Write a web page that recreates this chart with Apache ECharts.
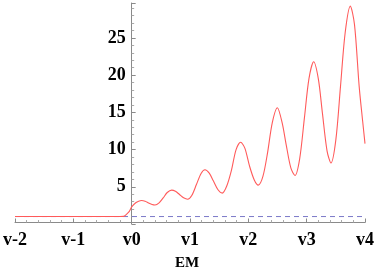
<!DOCTYPE html>
<html>
<head>
<meta charset="utf-8">
<script src="https://cdn.jsdelivr.net/npm/echarts@6/dist/echarts.min.js"></script>
<style>html,body{margin:0;padding:0;background:#fff}#c{width:374px;height:270px}</style>
</head>
<body>
<div id="c"></div>
<script>
// Data
var xValues = [-2, -1, -0.5, -0.2, -0.14, -0.09, -0.04, 0, 0.07, 0.12, 0.17, 0.23, 0.29, 0.35, 0.4, 0.47, 0.54, 0.61, 0.686, 0.75, 0.82, 0.89, 0.96, 1.03, 1.11, 1.19, 1.257, 1.33, 1.40, 1.48, 1.553, 1.63, 1.71, 1.79, 1.868, 1.94, 2.02, 2.10, 2.17, 2.25, 2.33, 2.41, 2.497, 2.58, 2.65, 2.73, 2.80, 2.88, 2.96, 3.04, 3.12, 3.20, 3.27, 3.35, 3.417, 3.50, 3.58, 3.66, 3.748, 3.82, 3.90, 3.96, 4.0];
var yValues = [1, 1, 1, 1, 1.02, 1.3, 1.7, 2.3, 2.85, 3.07, 3.15, 3.06, 2.83, 2.63, 2.56, 2.84, 3.5, 4.23, 4.55, 4.39, 3.96, 3.52, 3.33, 3.83, 5.3, 6.8, 7.3, 6.84, 5.8, 4.6, 4.15, 5.1, 7.2, 10.0, 10.98, 10.2, 7.8, 5.96, 5.23, 6.4, 9.6, 13.6, 15.63, 13.6, 10.6, 7.5, 6.52, 8.76, 14.16, 19.56, 21.8, 19.5, 14.9, 9.8, 8.2, 11.3, 18.5, 25.7, 29.28, 26.8, 18.5, 13.8, 10.8];
var refLineY = 1;
var yTickLabels = {'0': '', '5': '5', '10': '10', '15': '15', '20': '20', '25': '25'};
var xLabel = 'EM';

var curve = xValues.map(function (x, i) { return [x, yValues[i]]; });
var refLine = [[-2, refLineY], [4, refLineY]];

var labelFont = {fontFamily: 'Liberation Serif', fontWeight: 'bold', fontSize: 18, color: '#000'};
var axisGray = '#8a8a8a';
var gridLeft = 15, gridRight = 9, W = 374;
var xMin = -2, xMax = 4;
var yAxisOffset = -(0 - xMin) / (xMax - xMin) * (W - gridLeft - gridRight);

var chart = echarts.init(document.getElementById('c'));
chart.setOption({
  animation: false,
  grid: {left: gridLeft, right: gridRight, top: 3, bottom: 46, containLabel: false, outerBoundsMode: 'none'},
  graphic: [{
    type: 'text', x: 187, y: 263,
    style: {text: xLabel, font: 'bold 15px "Liberation Serif"', fill: '#000', textAlign: 'center', textVerticalAlign: 'middle'}
  }],
  xAxis: {
    type: 'value', min: xMin, max: xMax, interval: 1, offset: -1.5,
    axisLine: {onZero: false, lineStyle: {color: axisGray, width: 1}},
    axisTick: {inside: true, length: 4, lineStyle: {color: axisGray}},
    minorTick: {show: true, splitNumber: 5, length: 2.5, lineStyle: {color: '#aaa'}},
    splitLine: {show: false},
    axisLabel: Object.assign({margin: 9, hideOverlap: false,
      formatter: function (v) { return 'v' + v; }}, labelFont)
  },
  yAxis: {
    type: 'value', min: 0, max: 29.7, interval: 5, position: 'left', offset: yAxisOffset,
    axisLine: {onZero: false, lineStyle: {color: axisGray, width: 1}},
    axisTick: {inside: true, length: 4, lineStyle: {color: axisGray}},
    minorTick: {show: true, splitNumber: 5, length: 2.5, lineStyle: {color: '#aaa'}},
    splitLine: {show: false},
    axisLabel: Object.assign({margin: 6, hideOverlap: false, showMinLabel: false, showMaxLabel: false,
      formatter: function (v) { return yTickLabels[String(v)] || ''; }}, labelFont)
  },
  series: [{
    type: 'line', data: refLine, showSymbol: false,
    lineStyle: {color: '#7a78c8', width: 1, type: [5, 4]}
  }, {
    type: 'line', data: curve, showSymbol: false, smooth: 0.3,
    lineStyle: {color: '#ff5a5a', width: 1.1}
  }]
});
</script>
</body>
</html>
